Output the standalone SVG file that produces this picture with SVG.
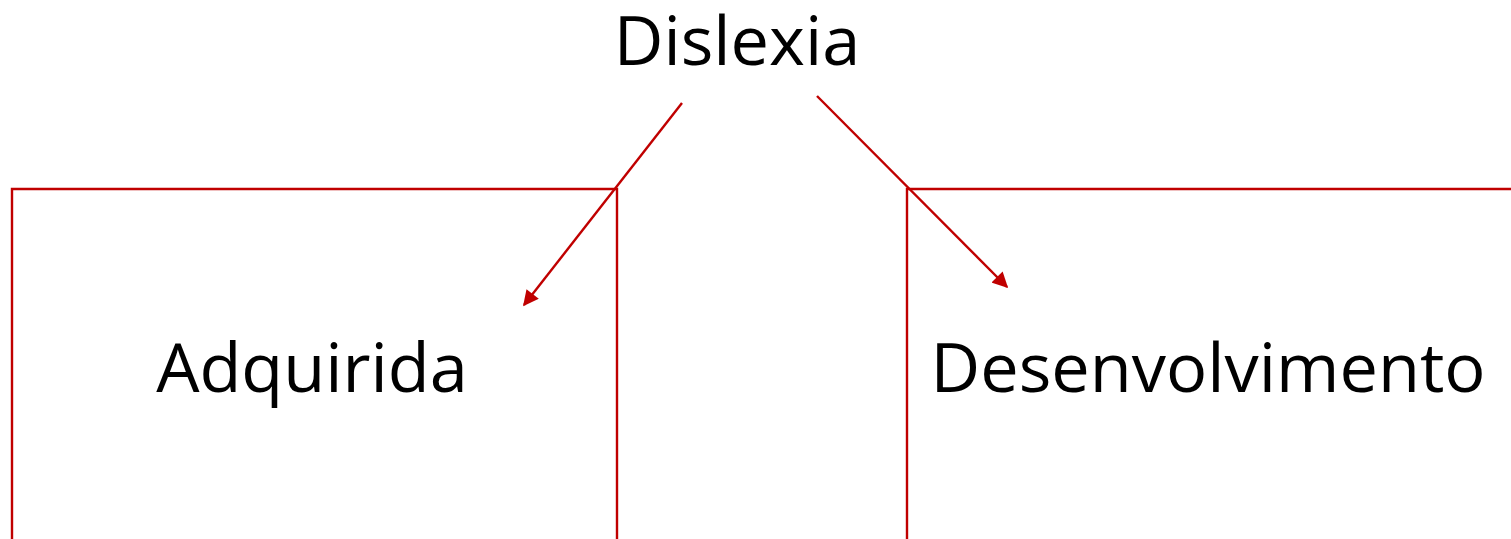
<svg xmlns="http://www.w3.org/2000/svg" width="1511" height="539" viewBox="0 0 1511 539">
<style>
.t{font-family:"Open Sans","Noto Sans",sans-serif;font-size:68.5px;fill:#000;}
.b{fill:none;stroke:#C00000;stroke-width:2.4;}
.c{stroke:#C00000;stroke-width:2.4;fill:none;}
</style>
<defs>
<marker id="ah" viewBox="0 0 10 10" refX="9" refY="5" markerWidth="7" markerHeight="6.5" orient="auto" markerUnits="strokeWidth">
<path d="M0,0 L10,5 L0,10 z" fill="#C00000"/>
</marker>
</defs>
<rect width="1511" height="539" fill="#fff"/>
<g id="node-dislexia">
<text class="t" x="737" y="65" text-anchor="middle">Dislexia</text>
</g>
<g id="node-adquirida">
<path class="b" d="M12,545 V189 H617 V545"/>
<text class="t" x="312" y="392" text-anchor="middle">Adquirida</text>
</g>
<g id="node-desenvolvimento">
<path class="b" d="M907,545 V189 H1520"/>
<text class="t" x="1208" y="392" text-anchor="middle">Desenvolvimento</text>
</g>
<g id="connectors">
<line class="c" x1="682" y1="103" x2="524" y2="305" marker-end="url(#ah)"/>
<line class="c" x1="817" y1="96" x2="1007" y2="287" marker-end="url(#ah)"/>
</g>
</svg>
